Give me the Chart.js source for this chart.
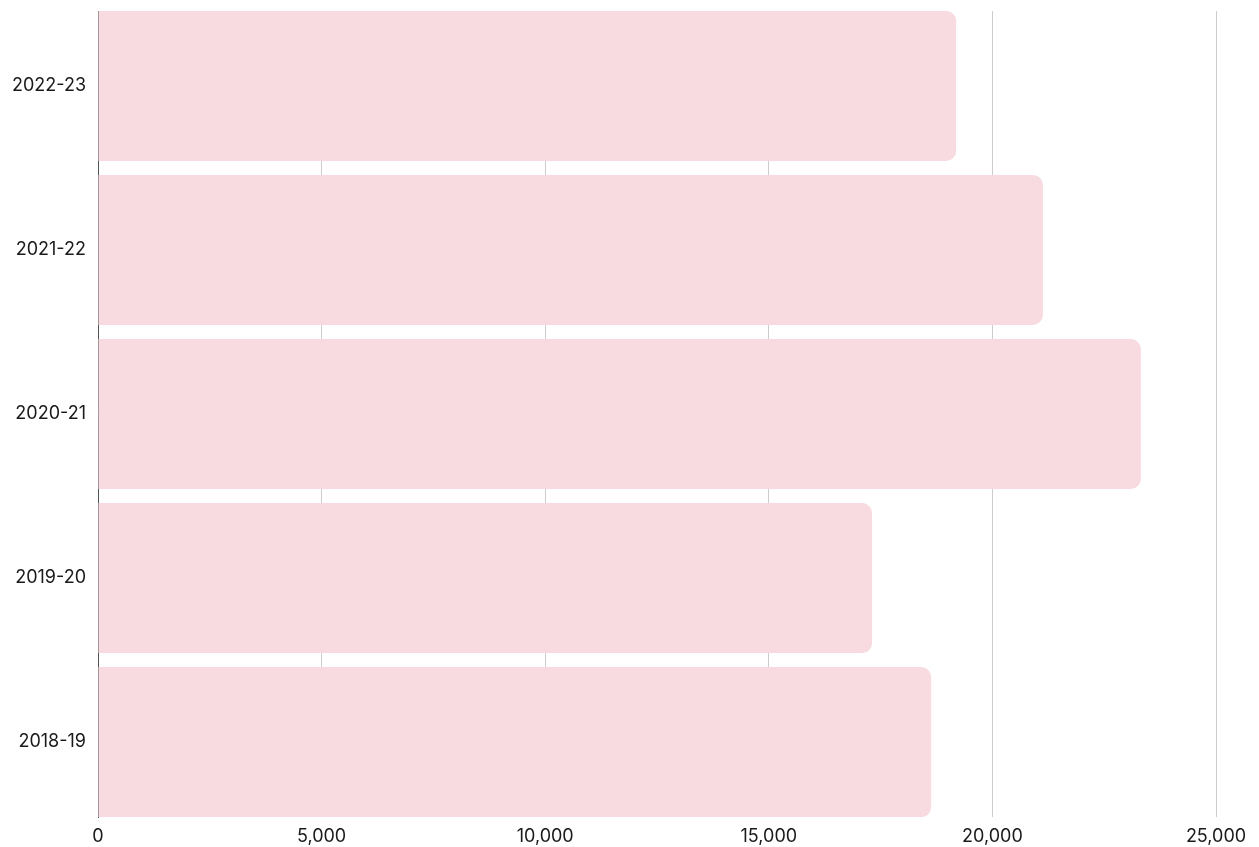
<!DOCTYPE html>
<html>
<head>
<meta charset="utf-8">
<script src="https://cdn.jsdelivr.net/npm/chart.js@4"></script>
<style>
  html, body { margin: 0; padding: 0; background: #fff; }
  #wrap { width: 1259px; height: 847px; }
</style>
</head>
<body>
<div id="wrap"><canvas id="barChart"></canvas></div>
<script>
const years = ['2022-23', '2021-22', '2020-21', '2019-20', '2018-19'];
const totals = [19190, 21130, 23320, 17310, 18630];
const xTicks = [0, 5000, 10000, 15000, 20000, 25000];

const points = totals.map((v, i) => ({ x: v, y: i }));

new Chart(document.getElementById('barChart').getContext('2d'), {
    type: 'bar',
    data: {
        datasets: [{
            data: points,
            backgroundColor: '#f8dbe0',
            borderWidth: 0,
            borderRadius: 10,
            barPercentage: 0.915,
            categoryPercentage: 1
        }]
    },
    options: {
        indexAxis: 'y',
        responsive: true,
        maintainAspectRatio: false,
        animation: false,
        layout: { padding: { top: 11, left: 0, right: 43 } },
        scales: {
            x: {
                type: 'linear',
                min: xTicks[0],
                max: xTicks[xTicks.length - 1],
                afterBuildTicks: axis => { axis.ticks = xTicks.map(v => ({ value: v })); },
                afterFit: axis => {
                    axis.height = 30;
                    axis.paddingLeft = 0;
                    axis.paddingRight = 0;
                },
                grid: { color: '#cccccc', drawTicks: false },
                border: { display: false },
                ticks: {
                    padding: 9,
                    color: '#1a1a1a',
                    font: { family: 'Inter', size: 18 },
                    callback: v => v.toLocaleString('en-US')
                }
            },
            y: {
                type: 'linear',
                reverse: true,
                offset: false,
                min: -0.457,
                max: years.length - 1 + 0.457,
                afterBuildTicks: axis => { axis.ticks = years.map((_, i) => ({ value: i })); },
                afterFit: axis => {
                    axis.width = 98;
                    axis.paddingTop = 0;
                    axis.paddingBottom = 0;
                },
                grid: { display: false, tickLength: 0 },
                border: { display: true, color: '#555' },
                ticks: {
                    padding: 12,
                    color: '#1a1a1a',
                    font: { family: 'Inter', size: 18 },
                    callback: v => years[v]
                }
            }
        },
        plugins: {
            legend: { display: false },
            tooltip: { enabled: false }
        }
    }
});
</script>
</body>
</html>
